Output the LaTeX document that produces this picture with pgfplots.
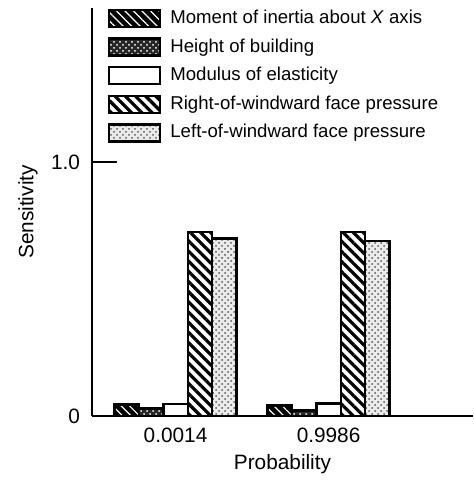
\documentclass[border=0pt]{standalone}
\usepackage{fontspec}
\setmainfont{Liberation Sans}
\usepackage{pgfplots}
\pgfplotsset{compat=1.18}
\usetikzlibrary{patterns,patterns.meta}
\begin{document}
\begin{tikzpicture}
\useasboundingbox (-46pt,-32pt) rectangle (190.5pt,208pt);
\begin{axis}[
  at={(0pt,0pt)}, anchor=south west,
  scale only axis, width=190.5pt, height=204pt,
  font=\fontsize{10.4}{12}\selectfont,
  xmin=-0.546, xmax=1.944, ymin=0, ymax=1.608,
  axis lines*=left,
  axis line style={line width=1pt},
  ybar=0pt, bar width=12.2pt,
  every axis plot/.append style={draw=black, line width=1.2pt,
    legend image code/.code={\draw[##1, line width=1.2pt] (0pt,-4.25pt) rectangle (25.5pt,4.25pt);}},
  xtick={0,1}, xticklabels={0.0014,0.9986},
  xtick style={draw=none},
  xticklabel style={yshift=-2.5pt},
  ytick={0,1}, yticklabels={0,1.0},
  tick align=inside, major tick length=12.5pt,
  ytick style={line width=1pt, black},
  yticklabel style={xshift=-2.5pt},
  xlabel={Probability},
  xlabel style={at={(axis description cs:0.5,-0.13)}, anchor=base},
  ylabel={Sensitivity},
  ylabel style={at={(axis description cs:-0.168,0.5)}, anchor=center},
  legend style={draw=none, fill=none, inner sep=0pt, outer sep=0pt,
    at={(axis description cs:0.042,0.998)}, anchor=north west,
    font=\fontsize{9.3}{11}\selectfont,
    row sep=4.6pt,
    nodes={inner ysep=0pt, inner xsep=4.5pt, text height=7pt, text depth=2pt},
    cells={anchor=west}},
  legend cell align=left,
]
\addplot[fill=black, postaction={pattern={Lines[angle=-45,distance=3pt,line width=0.6pt]}, pattern color=white}]
  coordinates {(0,0.046) (1,0.042)};
\addplot[fill=black!85, postaction={pattern=crosshatch dots, pattern color=white}]
  coordinates {(0,0.030) (1,0.022)};
\addplot[fill=white]
  coordinates {(0,0.047) (1,0.050)};
\addplot[fill=white, postaction={pattern={Lines[angle=-45,distance=3.6pt,line width=1.6pt]}, pattern color=black}]
  coordinates {(0,0.725) (1,0.725)};
\addplot[fill=black!8, postaction={pattern=crosshatch dots, pattern color=black!65}]
  coordinates {(0,0.700) (1,0.690)};
\legend{Moment of inertia about \textit{X} axis, Height of building, Modulus of elasticity, Right-of-windward face pressure, Left-of-windward face pressure}
\end{axis}
\end{tikzpicture}
\end{document}
